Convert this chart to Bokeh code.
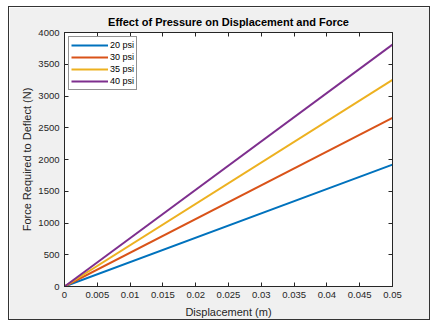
from bokeh.plotting import figure
from bokeh.models import LinearAxis, FixedTicker, NumeralTickFormatter, Legend, LegendItem, Range1d
from bokeh.embed import file_html
from bokeh.resources import INLINE

# Data
displacement = [0.0, 0.05]
force_20 = [0.0, 1920.0]
force_30 = [0.0, 2655.0]
force_35 = [0.0, 3255.0]
force_40 = [0.0, 3810.0]
series_labels = ["20 psi", "30 psi", "35 psi", "40 psi"]
x_ticks = [0, 0.005, 0.01, 0.015, 0.02, 0.025, 0.03, 0.035, 0.04, 0.045, 0.05]
y_ticks = [0, 500, 1000, 1500, 2000, 2500, 3000, 3500, 4000]

colors = ["#0072BD", "#D95319", "#EDB120", "#7E2F8E"]
FONT = "Liberation Sans"
TXT = "#262626"

p = figure(width=422, height=314, output_backend="svg", toolbar_location=None,
           x_range=Range1d(0, 0.05), y_range=Range1d(0, 4000),
           min_border_left=55, min_border_right=39, min_border_top=25, min_border_bottom=35,
           margin=(6, 5, 6, 8))
p.styles = {"border": "1.5px solid #333333"}
p.border_fill_color = "#f0f0f0"
p.background_fill_color = "white"
p.outline_line_color = "#262626"
p.outline_line_width = 1
p.xgrid.visible = False
p.ygrid.visible = False

p.title.text = "Effect of Pressure on Displacement and Force"
p.title.align = "center"
p.title.text_font = FONT
p.title.text_font_size = "11px"
p.title.text_font_style = "bold"
p.title.text_color = "black"
p.title.offset = 0

renderers = []
for ys, c in zip([force_20, force_30, force_35, force_40], colors):
    r = p.line(displacement, ys, line_color=c, line_width=2)
    renderers.append(r)

def style_axis(ax, labels=True):
    ax.major_tick_in = 4
    ax.major_tick_out = 0
    ax.minor_tick_in = 0
    ax.minor_tick_out = 0
    ax.axis_line_color = "#262626"
    ax.major_tick_line_color = "#262626"
    ax.major_label_text_font = FONT
    ax.major_label_text_font_size = "9.5px"
    ax.major_label_text_color = TXT
    ax.axis_label_text_font = FONT
    ax.axis_label_text_font_size = "11px"
    ax.axis_label_text_font_style = "normal"
    ax.axis_label_text_color = TXT
    if not labels:
        ax.major_label_text_alpha = 0
        ax.major_label_text_font_size = "0px"

xa = p.xaxis[0]
xa.ticker = FixedTicker(ticks=x_ticks)
xa.formatter = NumeralTickFormatter(format="0.[000]")
xa.axis_label = "Displacement (m)"
style_axis(xa)
xa.major_label_standoff = 5
xa.axis_label_standoff = 5

ya = p.yaxis[0]
ya.ticker = FixedTicker(ticks=y_ticks)
ya.formatter = NumeralTickFormatter(format="0")
ya.axis_label = "Force Required to Deflect (N)"
style_axis(ya)
ya.major_label_standoff = 5
ya.axis_label_standoff = 2

top = LinearAxis(ticker=FixedTicker(ticks=x_ticks))
style_axis(top, labels=False)
p.add_layout(top, "above")
right = LinearAxis(ticker=FixedTicker(ticks=y_ticks))
style_axis(right, labels=False)
p.add_layout(right, "right")

legend = Legend(items=[LegendItem(label=l, renderers=[r]) for l, r in zip(series_labels, renderers)],
                location="top_left")
legend.label_text_font = FONT
legend.label_text_font_size = "9px"
legend.label_text_color = "black"
legend.glyph_width = 37
legend.glyph_height = 12
legend.label_height = 12
legend.label_standoff = 2
legend.spacing = 0
legend.padding = 2
legend.margin = 4
legend.border_line_color = "#262626"
legend.border_line_width = 1
legend.background_fill_color = "white"
legend.background_fill_alpha = 1
p.add_layout(legend)

open("out.html", "w").write(file_html(p, INLINE))
